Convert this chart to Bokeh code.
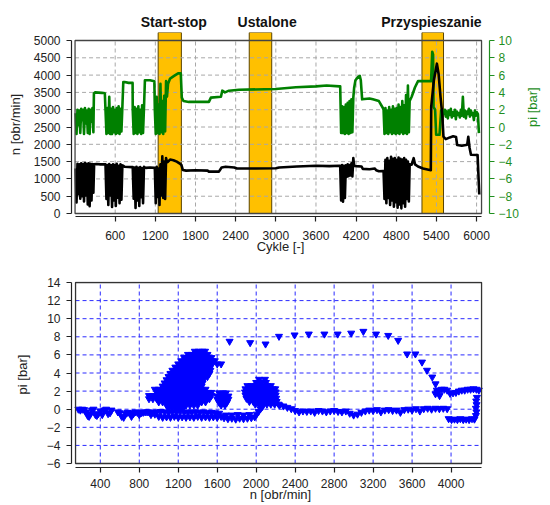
import math
from bokeh.plotting import figure
from bokeh.models import Range1d, LinearAxis, FixedTicker
from bokeh.layouts import column
from bokeh.embed import file_html
from bokeh.resources import INLINE

FONT = "Liberation Sans"
GREEN = "#008000"
GREEN_AX = "#1f8f1f"
BLUE = "#0000ff"

# ------------------------------------------------------------------ top chart data
band_names = ["Start-stop", "Ustalone", "Przyspieszanie"]
band_start = [1242, 2603, 5184]
band_end = [1589, 2939, 5506]
band_label_x = [1475, 2870, 5325]

cycle_ticks = [600, 1200, 1800, 2400, 3000, 3600, 4200, 4800, 5400, 6000]
n_ticks = [0, 500, 1000, 1500, 2000, 2500, 3000, 3500, 4000, 4500, 5000]
pi_ticks = [-10, -8, -6, -4, -2, 0, 2, 4, 6, 8, 10]
cycle_lim = (0, 6074)
n_lim = (0, 5000)

cyc_a = [8, 22, 36, 50, 64, 78, 92, 106, 120, 134, 148, 162, 176, 190, 204, 218, 232, 246, 260, 274]
cyc_b = [455, 469, 483, 497, 511, 525, 539, 553, 567, 581, 595, 609, 623, 637, 651, 665, 679, 693, 707, 721]
cyc_c = [862, 876, 890, 904, 918, 932, 946, 960, 974, 988, 1002, 1016, 1030, 1044]
cyc_d = [1192, 1206, 1220, 1234, 1248, 1262, 1276, 1290, 1304, 1318, 1332, 1346, 1360, 1374]
cyc_e = [3962, 3976, 3990, 4004, 4018, 4032, 4046, 4060, 4074, 4088, 4102, 4116, 4130, 4144, 4158, 4170]
cyc_f = [4610, 4624, 4638, 4652, 4666, 4680, 4694, 4708, 4722, 4736, 4750, 4764, 4778, 4792, 4806,
         4820, 4834, 4848, 4862, 4876, 4890, 4904, 4918, 4932, 4946, 4960, 4974, 4988, 5000]
cyc_g = [5510, 5525, 5540, 5555, 5570, 5585, 5600, 5615, 5630, 5645, 5660, 5675, 5690, 5705, 5720,
         5735, 5750, 5765, 5780, 5795, 5810, 5825, 5840, 5855, 5870, 5885, 5900, 5915, 5930, 5945,
         5960, 5975, 5990, 6005, 6020]

n_a = [1300, 320, 1440, 560, 1420, 430, 1450, 500, 1430, 350, 1460, 520, 1440, 260, 1450, 210, 1440, 380, 1430, 600]
n_ab_cyc = [285, 320, 380, 440]
n_ab = [1420, 1430, 1420, 1425]
n_b = [1420, 420, 1400, 250, 1430, 520, 1390, 190, 1420, 380, 1400, 220, 1440, 460, 1380, 300, 1420, 400, 1390, 1380]
n_bc_cyc = [740, 800, 850]
n_bc = [1350, 1345, 1340]
n_c = [1340, 430, 1330, 160, 1350, 380, 1320, 220, 1340, 470, 1310, 300, 1350, 1330]
n_cd_cyc = [1060, 1120, 1185]
n_cd = [1320, 1330, 1320]
n_d = [1320, 300, 1350, 480, 1300, 250, 1420, 520, 1650, 450, 1500, 420, 1600, 1480]
n_de_cyc = [1390, 1420, 1470, 1520, 1560, 1590, 1610, 1660, 1800, 1980, 2000, 2150, 2190, 2250, 2380,
            2420, 2700, 3000, 3050, 3315, 3600, 3800, 3950]
n_de = [1500, 1560, 1540, 1500, 1450, 1400, 1260, 1240, 1250, 1240, 1210, 1210, 1330, 1350, 1330,
        1300, 1300, 1310, 1330, 1360, 1380, 1370, 1380]
n_e = [1380, 380, 1400, 340, 1380, 450, 1390, 1060, 1420, 1080, 1400, 1100, 1450, 1070, 1600, 1380]
n_ef_cyc = [4200, 4280, 4300, 4400, 4480, 4500, 4540, 4600]
n_ef = [1370, 1360, 1290, 1280, 1300, 1250, 1220, 1230]
n_f = [1230, 420, 1550, 300, 1600, 450, 1520, 250, 1640, 380, 1580, 200, 1600, 330, 1550,
       170, 1620, 260, 1580, 150, 1560, 300, 1600, 200, 1550, 420, 1500, 350, 1420]
n_end_cyc = [5030, 5060, 5080, 5125, 5200, 5316, 5322, 5362, 5407, 5432, 5461, 5486, 5505, 5540,
             5600, 5650, 5693, 5710, 5780, 5860, 5876, 5895, 5916, 6015, 6040]
n_end = [1410, 1600, 1420, 1360, 1300, 1250, 3080, 3850, 4330, 4040, 3370, 2890, 2220, 2150,
         2200, 2230, 2210, 1980, 1960, 1990, 2220, 1900, 1700, 1690, 550]

pi_a = [1.6, -0.8, 2.0, 0.2, 1.9, -0.7, 2.1, 0.8, 2.0, -0.8, 2.2, 0.4, 1.9, -0.7, 2.1, -0.8, 2.0, 0.6, 2.2, -0.6]
pi_ab_cyc = [282, 300, 400, 445]
pi_ab = [3.9, 4.0, 3.95, 3.9]
pi_b = [2.0, -0.8, 2.2, -0.7, 3.5, -0.8, 2.1, -0.8, 2.3, -0.6, 2.0, -0.8, 2.2, -0.7, 2.4, -0.8, 2.1, -0.5, 2.3, 5.2]
pi_bc_cyc = [740, 800, 860]
pi_bc = [5.2, 5.1, 5.1]
pi_c = [2.0, -0.8, 2.3, -0.7, 2.1, -0.8, 2.4, -0.6, 2.0, -0.8, 2.5, -0.7, 2.2, 5.4]
pi_cd_cyc = [1060, 1120, 1185]
pi_cd = [5.4, 5.4, 5.3]
pi_d = [2.0, -0.8, 3.5, -0.7, 2.6, -0.8, 5.0, -0.6, 3.0, -0.8, 3.6, -0.5, 5.3, 3.5]
pi_de_cyc = [1390, 1420, 1480, 1540, 1580, 1595, 1620, 1700, 2000, 2030, 2180, 2200, 2240, 2300,
             2450, 3000, 3300, 3600, 3760, 3950]
pi_de = [5.0, 5.6, 5.9, 6.2, 6.2, 3.4, 3.0, 2.9, 2.9, 3.4, 3.5, 4.2, 4.0, 4.2,
         4.3, 4.4, 4.6, 4.7, 4.8, 4.7]
pi_e = [4.7, -0.7, 2.4, -0.7, 2.3, -0.8, 2.6, -0.7, 2.8, -0.8, 3.0, -0.7, 3.2, -0.6, 3.4, 4.5]
pi_ef_cyc = [4190, 4230, 4255, 4270, 4290, 4400, 4450, 4540, 4600]
pi_ef = [5.4, 5.8, 5.9, 5.4, 3.2, 3.3, 3.2, 3.0, 2.2]
pi_f = [2.0, -0.8, 2.2, -0.7, 1.9, -0.8, 2.3, -0.6, 2.0, -0.8, 2.4, -0.7, 2.1, -0.8, 2.2,
        -0.7, 2.6, -0.8, 2.3, -0.6, 3.0, -0.8, 2.5, -0.7, 3.7, -0.8, 4.8, -0.6, 3.0]
pi_fg_cyc = [5030, 5080, 5125, 5250, 5320, 5337, 5350, 5357, 5380, 5396, 5446, 5470, 5495]
pi_fg = [3.5, 4.6, 5.3, 5.3, 5.3, 8.7, 8.4, 2.3, 2.0, -0.9, -0.9, 1.9, 1.9]
pi_g = [1.5, 2.0, 1.2, 1.8, 1.0, 1.9, 1.4, 2.1, 1.1, 1.7, 1.3, 2.0, 0.9, 1.8, 1.4,
        1.6, 1.1, 2.0, 1.3, 3.5, 1.2, 1.9, 1.0, 1.8, 1.5, 2.1, 1.2, 1.9, 1.4, 1.6,
        0.8, 1.9, 1.3, 1.7, 1.5]
pi_end_cyc = [6035]
pi_end = [-0.7]

cycle_n = (cyc_a + n_ab_cyc + cyc_b + n_bc_cyc + cyc_c + n_cd_cyc + cyc_d + n_de_cyc
           + cyc_e + n_ef_cyc + cyc_f + n_end_cyc)
n_rpm = n_a + n_ab + n_b + n_bc + n_c + n_cd + n_d + n_de + n_e + n_ef + n_f + n_end
cycle_pi = (cyc_a + pi_ab_cyc + cyc_b + pi_bc_cyc + cyc_c + pi_cd_cyc + cyc_d + pi_de_cyc
            + cyc_e + pi_ef_cyc + cyc_f + pi_fg_cyc + cyc_g + pi_end_cyc)
pi_bar = pi_a + pi_ab + pi_b + pi_bc + pi_c + pi_cd + pi_d + pi_de + pi_e + pi_ef + pi_f + pi_fg + pi_g + pi_end

# ------------------------------------------------------------------ bottom chart data
rpm_ticks = [400, 800, 1200, 1600, 2000, 2400, 2800, 3200, 3600, 4000]
pi2_ticks = [-6, -4, -2, 0, 2, 4, 6, 8, 10, 12, 14]
rpm_lim = (146, 4313)
pi2_lim = (-6, 14)

row1_n = [175, 195, 215, 235, 255, 270, 285, 300, 315, 330, 350, 365, 380, 400, 420, 440, 460, 480, 500, 515]
row1_pi = [0.0, -0.1, 0.0, -0.05, -0.3, -0.7, -0.8, -0.5, -0.1, 0.0, -0.6, -0.7, -0.5, -0.2, -0.6, -0.1, 0.0, -0.5, -0.4, -0.1]
row2_n = [580, 600, 620, 640, 660, 680, 700, 720, 740, 760, 780, 800, 820, 840, 860, 880]
row2_pi = [-0.3, -0.4, -0.8, -0.9, -0.5, -0.35, -0.4, -0.8, -0.5, -0.3, -0.35, -0.6, -0.4, -0.35, -0.3, -0.3]
row3a_n = [900, 940, 980, 1020, 1060, 1100, 1140, 1180, 1220, 1260, 1300, 1340, 1380, 1420, 1460, 1500, 1540, 1580, 1620, 920, 960]
row3a_pi = [-0.3, -0.35, -0.3, -0.25, -0.3, -0.35, -0.3, -0.3, -0.25, -0.3, -0.35, -0.3, -0.3, -0.35, -0.3, -0.4, -0.35, -0.4, -0.45, -0.6, -0.55]
row3b_n = [1000, 1040, 1080, 1120, 1160, 1200, 1240, 1280, 1320, 1360, 1400, 1440, 1480, 1520, 1560, 1600, 1640]
row3b_pi = [-0.8, -0.9, -0.85, -0.9, -0.8, -0.9, -0.85, -0.9, -0.85, -0.9, -0.8, -0.9, -0.85, -0.9, -0.85, -0.9, -0.8]
row3c_n = [1670, 1710, 1750, 1790, 1830, 1870, 1910, 1950, 1985, 1690, 1750, 1810, 1870, 1930, 2005, 2025, 2045, 2065]
row3c_pi = [-0.95, -1.05, -1.0, -1.1, -1.0, -1.05, -1.0, -0.95, -0.85, -0.65, -0.65, -0.6, -0.65, -0.6, -0.55, -0.25, 0.05, 0.3]

blob_levels = [6.4, 6.05, 5.7, 5.35, 5.0, 4.65, 4.3, 3.95, 3.6, 3.25, 2.9, 2.55, 2.2, 1.85, 1.5, 1.15, 0.8, 0.45, 0.1]
blob_rows = [
    [1370, 1410, 1450, 1475],
    [1300, 1340, 1380, 1420, 1460, 1500],
    [1260, 1300, 1340, 1380, 1420, 1460, 1500, 1540],
    [1230, 1270, 1310, 1350, 1390, 1430, 1470, 1510, 1545, 1575],
    [1200, 1240, 1280, 1320, 1360, 1400, 1440, 1480, 1520, 1545, 1600, 1640],
    [1170, 1210, 1250, 1290, 1330, 1370, 1410, 1450, 1490, 1530],
    [1140, 1180, 1220, 1260, 1300, 1340, 1380, 1420, 1460, 1500, 1530],
    [1120, 1160, 1200, 1240, 1280, 1320, 1360, 1400, 1440, 1480, 1520],
    [1100, 1140, 1180, 1220, 1260, 1300, 1340, 1380, 1420, 1460, 1500],
    [1080, 1120, 1160, 1200, 1240, 1280, 1320, 1360, 1400, 1440, 1460],
    [1060, 1100, 1140, 1180, 1220, 1260, 1300, 1340, 1380, 1420, 1450],
    [1040, 1080, 1120, 1160, 1200, 1240, 1280, 1320, 1360, 1400, 1440],
    [960, 1000, 1040, 1080, 1120, 1160, 1200, 1240, 1280, 1320, 1360, 1400, 1440, 1480],
    [990, 1030, 1070, 1110, 1150, 1190, 1230, 1270, 1310, 1350, 1390, 1430, 1470, 1510, 1540],
    [900, 940, 980, 1020, 1060, 1100, 1140, 1180, 1220, 1260, 1300, 1340, 1380, 1420, 1460, 1500, 1540],
    [900, 940, 980, 1020, 1060, 1100, 1140, 1180, 1220, 1260, 1300, 1340, 1380, 1420, 1460, 1500, 1520],
    [1000, 1040, 1080, 1120, 1160, 1200, 1240, 1280, 1320, 1360, 1400, 1440, 1480],
    [1080, 1120, 1160, 1200, 1240, 1280, 1320, 1360, 1400],
    [1100, 1140, 1180, 1220, 1250],
]
oval_levels = [1.8, 1.45, 1.1, 0.75, 0.45]
oval_rows = [[1620, 1660, 1690], [1600, 1640, 1680, 1715], [1600, 1640, 1680, 1715], [1620, 1660, 1700], [1640, 1680]]
b3_levels = [3.3, 2.95, 2.6, 2.25, 1.9, 1.55, 1.2, 0.85, 0.55]
b3_rows = [
    [2030, 2090],
    [2000, 2050, 2100],
    [1910, 1950, 1990, 2030, 2070, 2110, 2150],
    [1890, 1930, 1970, 2010, 2050, 2090, 2130, 2170, 2195],
    [1885, 1925, 1965, 2005, 2045, 2085, 2125, 2165, 2200],
    [1890, 1930, 1970, 2010, 2050, 2090, 2130, 2170, 2200],
    [1900, 1940, 1980, 2020, 2060, 2100, 2140, 2180, 2205],
    [1930, 1970, 2010, 2050, 2090, 2130, 2170, 2210],
    [1990, 2030, 2070, 2110, 2150, 2190, 2230],
]
row4_n = [2240, 2280, 2320, 2360, 2400, 2440, 2480, 2520, 2560, 2600, 2640, 2680, 2720, 2760, 2800,
          2840, 2880, 2920, 2960, 3000, 3040, 3080, 3120, 3160, 3200, 3240, 3280, 3320, 3360, 3400,
          3440, 3480, 3520, 3560, 3600, 3640, 3680, 3720, 3760, 3800, 3840, 3880, 3920, 3960]
row4_pi = [0.45, 0.35, 0.2, 0.05, -0.15, -0.3, -0.2, -0.25, -0.2, -0.35, -0.15, -0.2, -0.3, -0.2, -0.15,
           -0.25, -0.3, -0.2, -0.45, -0.65, -0.55, -0.35, -0.2, -0.1, -0.15, -0.05, -0.3, -0.1, -0.05, -0.15,
           -0.1, -0.35, -0.05, 0.0, -0.1, 0.05, -0.2, 0.05, 0.1, 0.0, 0.1, 0.05, 0.1, 0.05]
rlow_n = [3975, 4005, 4035, 4065, 4095, 4125, 4155, 4185, 4215, 4240, 4255, 4260, 4255, 4262, 4258, 4265]
rlow_pi = [-1.05, -1.15, -1.1, -1.15, -1.05, -1.15, -1.1, -1.15, -1.05, -1.1, -0.7, -0.3, 0.1, 0.5, 0.9, 1.3]
rup_n = [3840, 3860, 3880, 3905, 3930, 3960, 3990, 4020, 4050, 4080, 4110, 4140, 4170, 4200, 4230, 4260, 4285]
rup_pi = [1.7, 1.9, 2.1, 2.2, 2.2, 2.1, 1.75, 1.8, 1.85, 2.0, 2.1, 2.1, 2.2, 2.2, 2.25, 2.2, 2.1]
arc_n = [1727, 1938, 2096, 2234, 2394, 2540, 2700, 2836, 2975, 3100, 3230, 3355, 3457, 3549, 3634,
         3702, 3753, 3807, 3841, 3854, 3882]
arc_pi = [7.5, 7.35, 7.2, 8.05, 8.2, 8.3, 8.3, 8.3, 8.4, 8.6, 8.3, 8.15, 7.6, 6.1, 6.1,
          5.2, 4.3, 3.55, 2.8, 2.1, 1.5]


def flat_rows(levels, rows):
    xs, ys = [], []
    for lvl, row in zip(levels, rows):
        xs += row
        ys += [lvl] * len(row)
    return xs, ys


bx, by = flat_rows(blob_levels, blob_rows)
ox, oy = flat_rows(oval_levels, oval_rows)
tx, ty = flat_rows(b3_levels, b3_rows)
sc_n = row1_n + row2_n + row3a_n + row3b_n + row3c_n + bx + ox + tx + row4_n + rlow_n + rup_n + arc_n
sc_pi = row1_pi + row2_pi + row3a_pi + row3b_pi + row3c_pi + by + oy + ty + row4_pi + rlow_pi + rup_pi + arc_pi


def style_axis(ax, color="#222222"):
    ax.major_tick_out = 5
    ax.major_tick_in = 0
    ax.minor_tick_out = 0
    ax.minor_tick_in = 0
    ax.axis_line_color = color
    ax.axis_line_width = 1.2
    ax.major_tick_line_color = color
    ax.major_tick_line_width = 1.2
    ax.major_label_text_font = FONT
    ax.major_label_text_font_size = "12px"
    ax.major_label_text_color = color
    ax.axis_label_text_font = FONT
    ax.axis_label_text_font_size = "13px"
    ax.axis_label_text_font_style = "normal"
    ax.axis_label_text_color = color


def n_to_pi(v):
    return v / 250.0 - 10.0


# ------------------------------------------------------------------ top figure
p1 = figure(width=550, height=256, output_backend="svg", toolbar_location=None,
            x_range=Range1d(-53, 6193), y_range=Range1d(-86, 5231),
            min_border_left=71, min_border_right=58, min_border_top=32, min_border_bottom=39)
p1.outline_line_color = None
p1.grid.visible = False
p1.extra_y_ranges = {"pi": Range1d(n_to_pi(-86), n_to_pi(5231))}

xa = p1.xaxis[0]
style_axis(xa)
xa.ticker = FixedTicker(ticks=cycle_ticks)
xa.bounds = cycle_lim
xa.major_label_standoff = 9
xa.axis_label = "Cykle [-]"
xa.axis_label_standoff = -4
ya = p1.yaxis[0]
style_axis(ya)
ya.ticker = FixedTicker(ticks=n_ticks)
ya.bounds = n_lim
ya.major_label_standoff = 6
ya.axis_label = "n [obr/min]"
ya.axis_label_standoff = 8

# right pressure axis
ra = LinearAxis(y_range_name="pi", ticker=FixedTicker(ticks=pi_ticks), bounds=(pi_ticks[0], pi_ticks[-1]))
style_axis(ra, GREEN_AX)
ra.major_label_standoff = 4
p1.add_layout(ra, "right")
# its title, drawn as a single rotated label on an invisible outer axis
rt = LinearAxis(y_range_name="pi", ticker=FixedTicker(ticks=[0]), major_label_overrides={0: "pi [bar]"})
rt.axis_line_color = None
rt.major_tick_line_color = None
rt.minor_tick_line_color = None
rt.major_tick_out = 0
rt.major_tick_in = 0
rt.major_label_standoff = 11
rt.major_label_orientation = math.pi / 2
rt.major_label_text_font = FONT
rt.major_label_text_font_size = "13px"
rt.major_label_text_color = GREEN_AX
p1.add_layout(rt, "right")

# band titles as an axis above the frame
ta = LinearAxis(ticker=FixedTicker(ticks=band_label_x),
                major_label_overrides={x: t for x, t in zip(band_label_x, band_names)})
ta.axis_line_color = None
ta.major_tick_line_color = None
ta.minor_tick_line_color = None
ta.major_tick_out = 0
ta.major_tick_in = 0
ta.major_label_standoff = 3
ta.major_label_text_font = FONT
ta.major_label_text_font_size = "14px"
ta.major_label_text_font_style = "bold"
ta.major_label_text_color = "#111111"
p1.add_layout(ta, "above")

p1.quad(left=band_start, right=band_end, bottom=n_lim[0], top=p1.y_range.end,
        fill_color="#FFC000", line_color="#5a4500", line_width=1)
p1.segment(x0=cycle_ticks, y0=[n_lim[0]] * len(cycle_ticks), x1=cycle_ticks, y1=[n_lim[1]] * len(cycle_ticks),
           line_color="#a8a8a8", line_width=1, line_dash="4 3")
p1.segment(x0=[cycle_lim[0]] * len(n_ticks), y0=n_ticks, x1=[cycle_lim[1]] * len(n_ticks), y1=n_ticks,
           line_color="#a8a8a8", line_width=1, line_dash="4 3")
p1.line(cycle_pi, pi_bar, y_range_name="pi", line_color=GREEN, line_width=2.6, line_join="round")
p1.line(cycle_n, n_rpm, line_color="black", line_width=2.6, line_join="round")
p1.quad(left=cycle_lim[0], right=cycle_lim[1], bottom=n_lim[0], top=n_lim[1],
        fill_color=None, line_color="#444444", line_width=1.3)

# ------------------------------------------------------------------ bottom figure
p2 = figure(width=550, height=248, output_backend="svg", toolbar_location=None,
            x_range=Range1d(104.5, 4394.5), y_range=Range1d(-6.44, 14.11),
            min_border_left=71, min_border_right=58, min_border_top=25, min_border_bottom=37)
p2.outline_line_color = None
p2.grid.visible = False

xb = p2.xaxis[0]
style_axis(xb)
xb.ticker = FixedTicker(ticks=rpm_ticks)
xb.bounds = rpm_lim
xb.major_label_standoff = 6
xb.axis_label = "n [obr/min]"
xb.axis_label_standoff = -4
yb = p2.yaxis[0]
style_axis(yb)
yb.ticker = FixedTicker(ticks=pi2_ticks)
yb.bounds = pi2_lim
yb.major_label_standoff = 6
yb.axis_label = "pi [bar]"
yb.axis_label_standoff = 14

p2.segment(x0=rpm_ticks, y0=[pi2_lim[0]] * len(rpm_ticks), x1=rpm_ticks, y1=[pi2_lim[1]] * len(rpm_ticks),
           line_color="#2a2aff", line_width=1, line_dash="4 3")
p2.segment(x0=[rpm_lim[0]] * len(pi2_ticks), y0=pi2_ticks, x1=[rpm_lim[1]] * len(pi2_ticks), y1=pi2_ticks,
           line_color="#2a2aff", line_width=1, line_dash="4 3")
p2.scatter(sc_n, sc_pi, marker="inverted_triangle", size=7, fill_color=BLUE, line_color=BLUE, line_width=1)
p2.quad(left=rpm_lim[0], right=rpm_lim[1], bottom=pi2_lim[0], top=pi2_lim[1],
        fill_color=None, line_color="#333333", line_width=1.3)

layout = column(p1, p2, spacing=0)
open("out.html", "w").write(file_html(layout, INLINE))
